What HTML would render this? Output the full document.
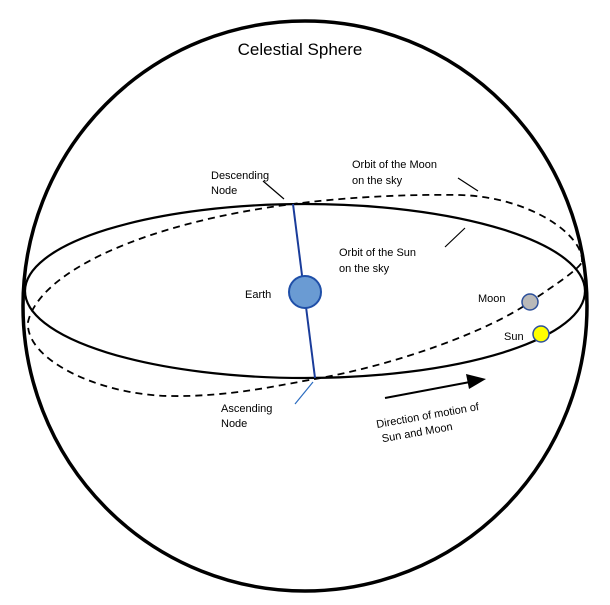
<!DOCTYPE html>
<html><head><style>body{margin:0;background:#fff}svg{display:block}text{font-family:"Liberation Sans",sans-serif;fill:#000}</style></head>
<body>
<svg width="610" height="605" viewBox="0 0 610 605">
<ellipse cx="305" cy="306" rx="282" ry="285" fill="none" stroke="#000" stroke-width="3.5"/>
<ellipse cx="305" cy="291" rx="280" ry="87" fill="none" stroke="#000" stroke-width="2.2"/>
<path d="M582,262 C584,235 530,197 460,195 C400,194 340,198 293,204 C150,222 40,270 28,322 C25,360 100,395 170,396 C230,397 280,385 315,379 C400,364 490,330 530,302 C555,285 578,270 582,262 Z" fill="none" stroke="#000" stroke-width="1.8" stroke-dasharray="7,5"/>
<line x1="293" y1="204" x2="315" y2="378" stroke="#1a3c9a" stroke-width="2"/>
<line x1="313" y1="382" x2="295" y2="404" stroke="#2b6cc0" stroke-width="1.2"/>
<line x1="284" y1="199" x2="263" y2="181" stroke="#000" stroke-width="1.2"/>
<line x1="458" y1="178" x2="478" y2="191" stroke="#000" stroke-width="1.2"/>
<line x1="445" y1="247" x2="465" y2="228" stroke="#000" stroke-width="1.2"/>
<circle cx="305" cy="292" r="16" fill="#6a9bd3" stroke="#1f4fa8" stroke-width="2"/>
<circle cx="530" cy="302" r="8" fill="#b9b9b9" stroke="#2c4f9a" stroke-width="1.5"/>
<circle cx="541" cy="334" r="8" fill="#ffff00" stroke="#2c4f9a" stroke-width="1.5"/>
<line x1="385" y1="398" x2="470" y2="382" stroke="#000" stroke-width="2"/>
<polygon points="486,379 466,374 469,389" fill="#000"/>
<text x="300" y="55" font-size="17" text-anchor="middle">Celestial Sphere</text>
<text x="211" y="179" font-size="11">Descending</text>
<text x="211" y="194" font-size="11">Node</text>
<text x="352" y="168" font-size="11">Orbit of the Moon</text>
<text x="352" y="184" font-size="11">on the sky</text>
<text x="339" y="256" font-size="11">Orbit of the Sun</text>
<text x="339" y="272" font-size="11">on the sky</text>
<text x="245" y="298" font-size="11">Earth</text>
<text x="478" y="302" font-size="11">Moon</text>
<text x="504" y="340" font-size="11">Sun</text>
<text x="221" y="412" font-size="11">Ascending</text>
<text x="221" y="427" font-size="11">Node</text>
<g transform="rotate(-10 377 428)">
<text x="377" y="428" font-size="11">Direction of motion of</text>
<text x="380" y="443" font-size="11">Sun and Moon</text>
</g>
</svg>
</body></html>
